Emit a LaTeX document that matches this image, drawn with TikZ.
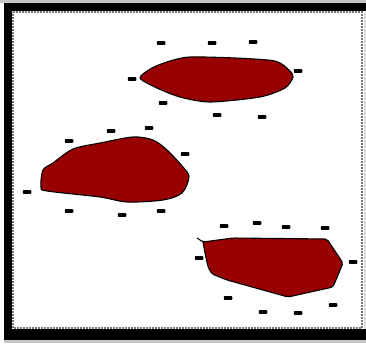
\documentclass[tikz,border=0pt]{standalone}
\usepackage{tikz}
\usepackage{xcolor}
\usetikzlibrary{positioning}
\definecolor{BlobRed}{RGB}{153,0,0}
\definecolor{FrameGray}{RGB}{120,120,120}

\begin{document}
\begin{tikzpicture}[x=1pt,y=-1pt,
        blob/.style={draw=black,line width=1.1pt,fill=BlobRed,line join=round},
        charge/.style={rectangle,fill=black,rounded corners=0.8pt,
                       minimum width=8.5pt,minimum height=3.8pt,inner sep=0pt},
        edgeline/.style={draw=FrameGray,densely dotted,line width=2pt}
      ]
        \useasboundingbox (0,0) rectangle (366,343);
        % frame
        \fill[gray!45] (0,0) rectangle (366,2.5);
        \fill[black] (4,2.5) rectangle (366,10.5);
        \fill[black] (4,2.5) rectangle (12,340);
        \fill[black] (4,329) rectangle (366,340);
        \fill[gray!45] (4,340) rectangle (366,343);
        \fill[gray!25] (363.5,10.5) rectangle (366,329);
        \draw[edgeline] (13,11.8) -- (361.8,11.8) -- (361.8,328)
          -- (13,328) -- cycle;
        % islands
        \draw[blob] plot[smooth cycle,tension=0.45] coordinates
          {(140,78) (152,68) (170,61) (190,57) (235,58) (275,61)
           (289,70) (293,77) (285,88) (260,97) (210,102) (180,97)
           (157,88)};
        \draw[blob] plot[smooth cycle,tension=0.5] coordinates
          {(41,187) (43,170) (53,163) (73,149) (100,143) (133,137)
           (153,140) (167,150) (183,167) (189,177) (182,193) (163,200)
           (127,202) (100,197) (47,191)};
        \draw[blob,rounded corners=2pt] (197,238) -- (203,242) -- (233,238)
          -- (327,239) -- (343,263) -- (333,287) -- (288,297) -- (227,280)
          -- (212,274) -- (208,267) -- (205,253) -- (203,242);
        % charges, top island
        \node[charge] (ta) at (161,43) {};
        \node[charge] (tb) at (212,43) {};
        \node[charge] (tc) at (253,42) {};
        \node[charge] (td) at (298,71) {};
        \node[charge] (te) at (132,79) {};
        \node[charge] (tf) at (163,103) {};
        \node[charge] (tg) at (217,115) {};
        \node[charge] (th) at (262,117) {};
        % charges, left island
        \node[charge] (la) at (69,141) {};
        \node[charge] (lb) at (111,131) {};
        \node[charge] (lc) at (149,128) {};
        \node[charge] (ld) at (185,154) {};
        \node[charge] (le) at (27,192) {};
        \node[charge] (lf) at (69,211) {};
        \node[charge] (lg) at (122,215) {};
        \node[charge] (lh) at (161,211) {};
        % charges, bottom island
        \node[charge] (ba) at (224,226) {};
        \node[charge] (bb) at (257,223) {};
        \node[charge] (bc) at (286,227) {};
        \node[charge] (bd) at (325,228) {};
        \node[charge] (be) at (199,258) {};
        \node[charge] (bf) at (353,262) {};
        \node[charge] (bg) at (228,298) {};
        \node[charge] (bh) at (263,312) {};
        \node[charge] (bi) at (298,313) {};
        \node[charge] (bj) at (333,305) {};
      \end{tikzpicture}
\end{document}
